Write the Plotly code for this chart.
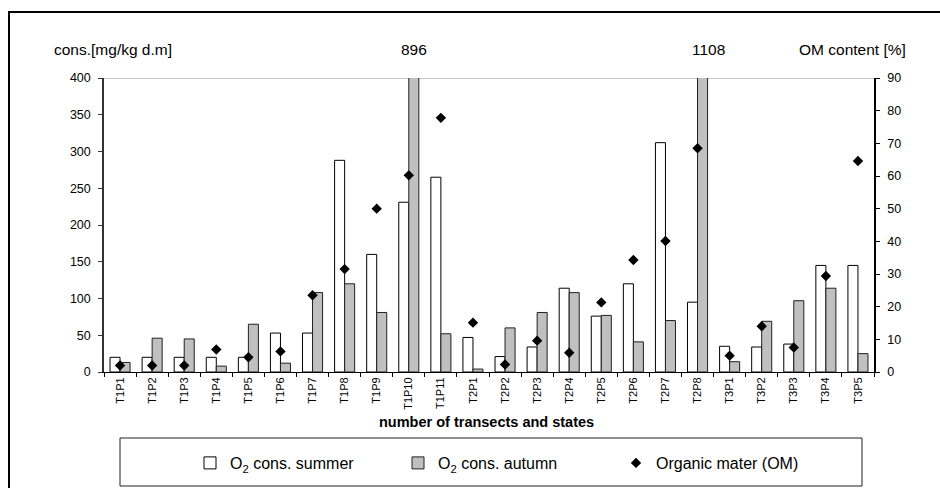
import plotly.graph_objects as go

categories = ["T1P1", "T1P2", "T1P3", "T1P4", "T1P5", "T1P6", "T1P7", "T1P8", "T1P9", "T1P10", "T1P11",
              "T2P1", "T2P2", "T2P3", "T2P4", "T2P5", "T2P6", "T2P7", "T2P8",
              "T3P1", "T3P2", "T3P3", "T3P4", "T3P5"]
o2_summer = [20, 20, 20, 20, 20, 53, 53, 288, 160, 231, 265,
             47, 21, 34, 114, 76, 120, 312, 95,
             35, 34, 38, 145, 145]
o2_autumn = [13, 46, 45, 8, 65, 12, 108, 120, 81, 896, 52,
             4, 60, 81, 108, 77, 41, 70, 1108,
             14, 69, 97, 114, 25]
om_content = [2.0, 2.0, 2.0, 6.9, 4.5, 6.3, 23.5, 31.5, 50.0, 60.2, 77.8,
              15.1, 2.3, 9.6, 5.9, 21.3, 34.3, 40.1, 68.5,
              5.0, 14.0, 7.5, 29.4, 64.6]
left_ticks = [0, 50, 100, 150, 200, 250, 300, 350, 400]
right_ticks = [0, 10, 20, 30, 40, 50, 60, 70, 80, 90]

FONT = "Liberation Sans, Arial, sans-serif"

# plot area in pixels
W, H = 940, 488
L, R, T, B = 104, 874, 78, 372
pw, ph = R - L, B - T


def px(x):
    return (x - L) / pw


def py(y):
    return (B - y) / ph


fig = go.Figure()
fig.add_trace(go.Bar(
    x=categories, y=o2_summer, name="O<sub>2</sub> cons. summer",
    marker=dict(color="white", line=dict(color="black", width=1)),
    legend="legend",
))
fig.add_trace(go.Bar(
    x=categories, y=o2_autumn, name="O<sub>2</sub> cons. autumn",
    marker=dict(color="#c0c0c0", line=dict(color="#202020", width=1)),
    legend="legend2",
))
fig.add_trace(go.Scatter(
    x=categories, y=om_content, name="Organic mater (OM)", yaxis="y2",
    mode="markers", marker=dict(symbol="diamond", size=8, color="black"),
    legend="legend3", cliponaxis=False,
))

annotations = []
ymax = left_ticks[-1]
label_shift = {"T1P10": 5, "T2P8": 11}
for c, v in zip(categories, o2_autumn):
    if v > ymax:
        annotations.append(dict(x=c, xref="x", y=py(49), yref="paper", text=str(v),
                                xanchor="center", yanchor="middle", showarrow=False,
                                xshift=label_shift.get(c, 6),
                                font=dict(size=15.5, family=FONT, color="black")))

annotations += [
    dict(x=px(113), y=py(49), xref="paper", yref="paper", text="cons.[mg/kg d.m]",
         xanchor="center", yanchor="middle", showarrow=False,
         font=dict(size=15.5, family=FONT, color="black")),
    dict(x=px(852), y=py(49), xref="paper", yref="paper", text="OM content [%]",
         xanchor="center", yanchor="middle", showarrow=False,
         font=dict(size=15.5, family=FONT, color="black")),
    dict(x=px(486), y=py(422), xref="paper", yref="paper", text="<b>number of transects and states</b>",
         xanchor="center", yanchor="middle", showarrow=False,
         font=dict(size=14.5, family=FONT, color="black")),
]

shapes = [
    # top grey line at max
    dict(type="line", xref="paper", yref="y", x0=0, x1=1, y0=400, y1=400,
         line=dict(color="#b4b4b4", width=1.5), layer="below"),
    # outer frame
    dict(type="rect", xref="paper", yref="paper", x0=px(9), x1=px(950), y0=py(500), y1=py(12),
         line=dict(color="black", width=2)),
    # legend box
    dict(type="rect", xref="paper", yref="paper", x0=px(120), x1=px(862), y0=py(486), y1=py(438),
         line=dict(color="#202020", width=1)),
]

leg_common = dict(orientation="h", yanchor="middle", y=py(463), xanchor="left",
                  bgcolor="rgba(0,0,0,0)", borderwidth=0,
                  font=dict(size=16, family=FONT, color="black"))

fig.update_layout(
    width=W, height=H,
    margin=dict(l=L, r=W - R, t=T, b=H - B, autoexpand=False),
    paper_bgcolor="white", plot_bgcolor="white",
    font=dict(family=FONT, color="black"),
    showlegend=True,
    barmode="group", bargap=0.375, bargroupgap=0,
    annotations=annotations, shapes=shapes,
    legend=dict(x=px(190), **leg_common),
    legend2=dict(x=px(398), **leg_common),
    legend3=dict(x=px(616), **leg_common),
    xaxis=dict(
        type="category", range=[-0.5, len(categories) - 0.5],
        showline=True, linecolor="black", linewidth=1,
        ticks="outside", tickson="boundaries", ticklen=4, tickcolor="black",
        tickangle=-90, tickfont=dict(size=11, family=FONT), showgrid=False,
    ),
    yaxis=dict(
        range=[0, ymax], tickvals=left_ticks, showline=True, linecolor="#333333", linewidth=1.5,
        ticks="outside", ticklen=4, tickcolor="#333333", showgrid=False, zeroline=False,
        tickfont=dict(size=12.5, family=FONT), ticklabelstandoff=5,
    ),
    yaxis2=dict(
        range=[0, right_ticks[-1]], tickvals=right_ticks, overlaying="y", side="right",
        showline=True, linecolor="black", linewidth=1.5, ticks="outside", ticklen=4,
        tickcolor="black", showgrid=False, zeroline=False, tickfont=dict(size=12.5, family=FONT),
        ticklabelstandoff=5,
    ),
    # inner halves of the crossing tick marks
    yaxis3=dict(
        range=[0, ymax], tickvals=left_ticks, overlaying="y", side="left",
        ticks="inside", ticklen=4, tickcolor="#333333", showticklabels=False,
        showgrid=False, zeroline=False, showline=False,
    ),
    yaxis4=dict(
        range=[0, right_ticks[-1]], tickvals=right_ticks, overlaying="y", side="right",
        ticks="inside", ticklen=4, tickcolor="black", showticklabels=False,
        showgrid=False, zeroline=False, showline=False,
    ),
)

fig.write_html("out.html", config={"displayModeBar": False},
               post_script="document.body.style.margin='0';")
